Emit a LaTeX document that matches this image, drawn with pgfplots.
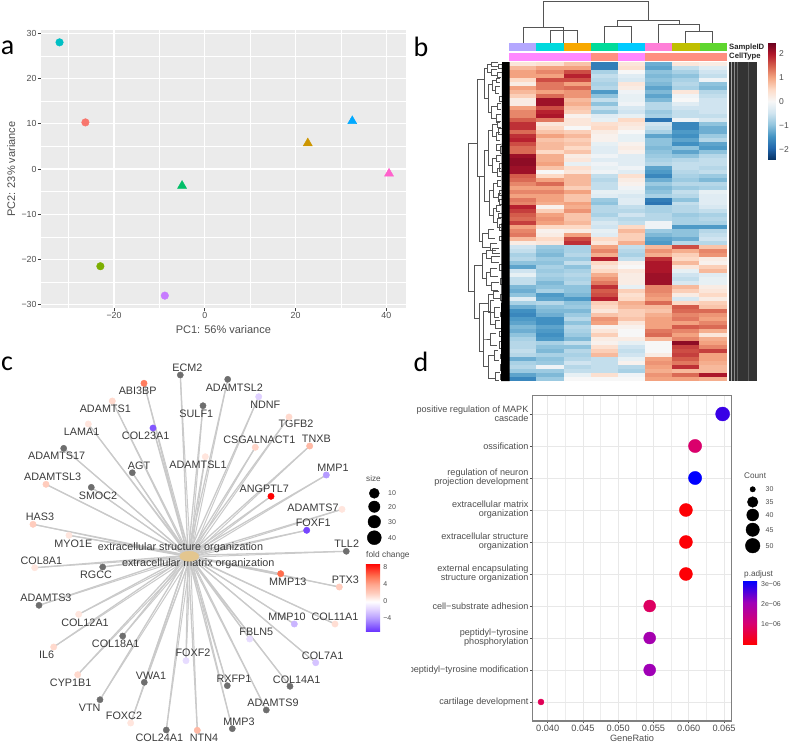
\documentclass[border=0pt]{standalone}
\usepackage{fontspec}
\setmainfont{Liberation Sans}
\newfontfamily\carlito{Carlito}
\usepackage{pgfplots}
\usepackage{pgfplotstable}
\pgfplotsset{compat=1.18}
\newcommand\fs[1]{\fontsize{#1}{#1}\selectfont}
\definecolor{tickg}{HTML}{4D4D4D}
\definecolor{txtg}{HTML}{3A3A3A}
\definecolor{dendro}{HTML}{555555}
\definecolor{edgeg}{HTML}{CACACA}
\definecolor{nodeg}{HTML}{6E6E6E}
\definecolor{sa}{HTML}{B4A7FF}\definecolor{sb}{HTML}{00D9DD}\definecolor{sc}{HTML}{F8A800}\definecolor{sd}{HTML}{00DB9A}
\definecolor{se}{HTML}{00CBFF}\definecolor{sf}{HTML}{FF7FD8}\definecolor{sg}{HTML}{BFBF00}\definecolor{sh}{HTML}{5FD62F}
\definecolor{ca}{HTML}{FF88FF}\definecolor{cb}{HTML}{FF8F80}
\pgfplotsset{
 colormap={rdbu}{rgb255=(5,48,97) rgb255=(33,102,172) rgb255=(67,147,195) rgb255=(146,197,222) rgb255=(209,229,240) rgb255=(247,247,247) rgb255=(253,219,199) rgb255=(244,165,130) rgb255=(214,96,77) rgb255=(178,24,43) rgb255=(103,0,31)},
 colormap={fc}{rgb255(0cm)=(106,53,255); rgb255(3cm)=(181,155,255); rgb255(5cm)=(223,207,255); rgb255(7cm)=(255,255,255); rgb255(9cm)=(255,205,190); rgb255(11cm)=(255,167,143); rgb255(13cm)=(255,112,80); rgb255(16cm)=(255,0,0)},
 colormap={pa}{rgb255=(255,0,0) rgb255=(216,0,112) rgb255=(158,0,184) rgb255=(0,0,255)},
}
\pgfdeclareplotmark{cell}{\pgfpathrectangle{\pgfpoint{-13.7pt}{-2.05pt}}{\pgfpoint{27.4pt}{4.1pt}}\pgfusepathqfill}
\pgfplotstableread{
c0 c1 c2 c3 c4 c5 c6 c7
0.3 0.4 0.7 -1.7 0.3 -1.2 0.3 0.2
0.8 1.0 1.0 -1.7 0.4 -1.3 -0.6 -0.3
1.0 1.2 1.6 -0.8 0.0 -1.0 -0.8 -0.5
1.0 1.0 1.9 -0.6 -0.3 -1.1 -1.0 -0.6
0.5 1.6 1.6 -0.7 -0.4 -1.0 -0.8 -0.1
0.2 1.3 1.0 -0.8 0.3 -1.1 -0.7 -1.0
1.0 1.3 1.4 -0.7 0.2 -1.3 -0.8 -1.1
0.8 1.0 1.1 -1.4 -0.1 -1.1 0.3 -0.7
0.6 1.4 1.1 -1.0 -0.2 -1.3 -0.1 -0.6
0.2 2.1 0.8 -0.6 -0.2 -1.1 0.0 -0.5
0.2 2.1 0.9 -1.0 -0.1 -0.7 -0.3 -0.5
1.0 1.6 0.7 -0.6 -0.4 -0.7 -0.5 -0.5
1.2 1.9 0.6 -0.9 -0.5 -0.9 -0.6 -0.5
1.2 2.0 0.1 -0.3 -0.2 -0.8 -0.6 -0.6
1.5 1.3 0.3 -0.2 0.5 -1.8 -0.1 -0.4
1.8 0.3 0.3 0.4 0.3 -0.5 -1.6 -1.0
1.8 0.5 0.0 0.5 0.2 -0.6 -1.6 -1.2
1.4 0.7 0.6 0.2 0.0 -0.8 -1.4 -1.2
1.8 1.0 0.8 0.1 -0.2 -1.3 -1.5 -0.9
1.9 0.7 0.6 0.1 -0.2 -1.0 -1.3 -0.7
1.6 0.8 0.7 -0.2 0.1 -1.0 -1.5 -1.3
1.4 0.8 0.5 -0.3 0.2 -1.1 -1.0 -1.4
1.4 0.5 0.7 -0.3 0.1 -1.0 -1.3 -1.0
2.1 0.9 0.2 -0.1 -0.3 -0.9 -1.0 -0.7
2.2 0.9 0.3 -0.3 -0.3 -0.8 -0.7 -0.6
2.2 1.0 -0.2 -0.1 -0.3 -0.7 -0.6 -0.6
2.1 0.7 0.4 -0.2 -0.1 -1.3 -0.6 -0.7
2.1 0.0 0.3 -0.1 -0.3 -1.4 -0.7 -0.6
1.5 0.5 0.8 -0.6 0.4 -1.6 -0.8 -0.9
1.4 1.0 0.8 -0.7 0.2 -1.2 -0.9 -1.1
1.2 1.4 0.8 -0.6 0.1 -0.9 -0.7 -0.7
1.0 1.0 0.6 -0.6 -0.1 -1.1 -0.9 -0.8
1.2 1.2 1.0 -0.2 -0.2 -1.0 -0.6 -0.2
1.0 1.0 0.7 -0.3 -0.4 -0.8 -0.7 -0.3
1.3 1.0 0.7 -0.9 -0.3 -1.7 -1.0 -0.3
1.2 0.9 1.0 -1.0 -0.3 -1.8 -0.6 -0.3
1.9 0.1 0.9 -0.7 -0.6 -0.8 -0.7 -0.4
1.7 0.6 1.1 -0.7 -0.7 -0.8 -0.7 -0.6
1.5 1.0 0.7 -0.8 -0.5 -0.7 -0.9 -0.8
1.4 1.1 0.7 -0.6 -0.7 -0.7 -0.8 -0.7
1.7 1.0 0.8 -0.4 -0.6 -0.1 -0.8 -0.8
1.0 0.5 0.5 -0.5 0.5 -0.1 -1.4 -1.4
1.2 0.1 0.2 -0.2 0.8 -0.9 -1.0 -0.7
1.3 0.2 1.0 -0.3 0.6 -1.1 -1.0 -0.6
0.8 0.5 1.6 0.5 0.6 -1.3 -1.2 -0.5
0.2 0.3 1.8 0.3 0.9 -1.4 -0.7 -0.7
-0.5 -0.9 -0.8 1.0 -0.6 0.8 1.6 0.7
-0.6 -1.0 -0.8 1.2 -0.7 1.1 0.9 1.2
-0.8 -1.1 -0.7 0.9 -0.8 0.9 0.6 1.1
-0.7 -0.9 -0.9 1.9 -0.6 1.8 0.5 0.2
-1.0 -1.0 -0.6 0.5 0.1 2.0 0.8 0.1
-1.3 -0.8 -1.0 0.3 0.0 2.0 0.3 0.6
-0.5 -0.9 -0.8 0.5 0.3 2.0 -0.2 0.8
-0.2 -0.8 -0.7 0.9 0.2 2.1 -0.5 -0.3
-0.6 -0.9 -0.8 1.1 0.2 2.1 -0.6 -0.2
-0.6 -1.1 -0.7 1.3 0.2 2.1 -0.4 -0.2
-1.1 -1.0 -1.0 1.8 -0.2 1.2 0.8 0.2
-1.2 -0.8 -1.0 1.5 0.6 1.2 0.6 0.3
-1.0 -1.4 -1.1 1.6 0.4 1.1 0.2 0.5
-0.3 -1.3 -1.4 1.9 0.5 1.0 -0.4 0.2
-0.8 -0.7 -1.0 0.6 0.9 1.4 0.5 0.6
-1.2 -1.0 -0.9 0.5 0.8 0.8 1.5 0.7
-1.5 -1.1 -1.1 0.3 0.6 0.7 1.4 1.4
-1.6 -1.2 -0.9 0.7 0.6 0.9 1.2 1.1
-1.4 -1.5 -0.7 1.1 0.7 1.0 1.3 1.0
-1.3 -1.5 -1.0 1.0 0.3 1.0 1.0 1.2
-1.1 -1.3 -0.7 0.1 0.1 1.0 1.5 1.4
-1.2 -1.4 -0.8 0.3 0.0 1.3 1.2 0.9
-1.0 -1.5 -0.9 0.6 0.0 1.4 1.0 0.3
-0.8 -1.4 -1.1 0.2 0.2 0.8 1.2 0.9
-0.7 -0.8 -0.6 0.1 -0.2 0.0 2.2 1.0
-0.7 -1.0 -1.0 0.4 -0.5 0.0 1.7 1.2
-0.6 -1.1 -0.7 0.6 -0.6 0.0 1.6 1.7
-0.7 -0.8 -0.8 0.8 -0.5 0.2 1.7 1.0
-1.2 -1.0 -0.7 -0.6 -0.2 1.0 1.5 1.0
-0.8 -0.9 -0.5 -0.6 0.1 1.1 1.3 0.9
-0.7 -0.1 -0.7 -0.6 -0.7 1.0 1.8 0.8
-0.9 -0.9 -0.6 -0.6 -0.8 0.9 0.8 0.8
-1.3 -1.1 -0.2 0.4 -0.1 1.1 1.4 2.0
-1.6 -0.9 0.0 0.0 0.0 1.0 1.0 0.9
}\heat
\pgfplotstableread{
x y m
144 383.3 5.5
112.3 401 1.5
88.3 424 1
153 428 -6
205.3 456.7 1
46 484.3 2
33 524.3 2
69 535.3 1
258.7 396.7 -2
289 417 1.5
255.3 447.3 1.7
309.7 446 3
326.3 475 -4
271 496.3 8.9
342 509.3 1
306.7 530.3 -6.5
34.7 567.7 1
78.7 614.3 1
53.7 647 1.5
186 660.7 -1.5
77.7 674.7 1.5
130.7 723 1
197.3 730.3 3
280.7 573.7 6
339.3 587 2
294.3 624 -3
335 624 1.3
249.7 639 -1.5
315.7 662.7 -2.5
}\colnodes
\pgfplotstableread{
x y
180.3 375
203 405.7
63.7 448.3
132.3 472.7
91.3 487.3
227.7 379.3
346.3 551.3
102.7 567
39 605.3
122.7 636
144.3 682.3
100 699.7
166.3 730
227.3 685.7
290 686.3
266.3 710
232.3 728.7
}\grnodes
\begin{document}
\begin{tikzpicture}[x=1pt,y=1pt]
\path[use as bounding box] (0,0) rectangle (790,744);
% ---------- panel a
\begin{axis}[at={(40.7pt,435.7pt)},anchor=south west,scale only axis,width=365.3pt,height=278.3pt,
 xmin=-36.15,xmax=44.34,ymin=-30.8,ymax=30.73,
 axis background/.style={fill=black!8},axis line style={draw=none},
 xtick={-20,0,20,40},xticklabels={−20,0,20,40},
 ytick={-30,-20,-10,0,10,20,30},yticklabels={−30,−20,−10,0,10,20,30},
 minor xtick={-30,-10,10,30},minor ytick={-25,-15,-5,5,15,25},
 grid=both,major grid style={white,line width=1.4pt},minor grid style={white,line width=0.6pt},
 tick align=outside,tick pos=left,major tick length=3pt,minor tick length=0pt,
 tick style={draw=black!75,line width=0.7pt},
 xticklabel style={font=\fs{8.8},text=tickg,inner sep=1pt},
 yticklabel style={font=\fs{8.8},text=tickg,inner sep=1pt},
 xlabel={PC1: 56\% variance},ylabel={PC2: 23\% variance},
 xlabel style={font=\fs{11},text=tickg,at={(axis description cs:0.5,-0.078)},anchor=center},
 ylabel style={font=\fs{11},text=tickg,at={(axis description cs:-0.0805,0.5)},anchor=center},
 clip=false]
\addplot[only marks,mark=*,mark size=3.8pt,color={rgb,255:red,0;green,191;blue,196}] coordinates {(-32,28)};
\addplot[only marks,mark=*,mark size=3.8pt,color={rgb,255:red,248;green,118;blue,109}] coordinates {(-26.3,10.3)};
\addplot[only marks,mark=*,mark size=3.8pt,color={rgb,255:red,124;green,174;blue,0}] coordinates {(-23,-21.5)};
\addplot[only marks,mark=*,mark size=3.8pt,color={rgb,255:red,199;green,124;blue,255}] coordinates {(-8.8,-28)};
\addplot[only marks,mark=triangle*,mark size=5.2pt,color={rgb,255:red,0;green,190;blue,103}] coordinates {(-5,-3.7)};
\addplot[only marks,mark=triangle*,mark size=5.2pt,color={rgb,255:red,205;green,150;blue,0}] coordinates {(22.7,5.7)};
\addplot[only marks,mark=triangle*,mark size=5.2pt,color={rgb,255:red,0;green,169;blue,255}] coordinates {(32.5,10.6)};
\addplot[only marks,mark=triangle*,mark size=5.2pt,color={rgb,255:red,255;green,97;blue,204}] coordinates {(40.6,-1)};
\end{axis}
% ---------- panel b heat map
\begin{axis}[at={(509.3pt,363pt)},anchor=south west,scale only axis,width=217.4pt,height=319pt,
 xmin=-0.5,xmax=7.5,ymin=-0.5,ymax=79.5,y dir=reverse,hide axis,clip=false,
 colormap name=rdbu,point meta min=-2.45,point meta max=2.45]
\pgfplotsinvokeforeach{0,...,7}{
 \addplot[scatter,only marks,mark=cell,point meta=\thisrow{c#1},
  scatter/use mapped color={draw=none,fill=mapped color}]
  table[x expr=#1,y expr=\coordindex]{\heat};
}
\end{axis}
\begin{axis}[at={(759.6pt,584pt)},anchor=south west,scale only axis,width=7.7pt,height=117.7pt,hide axis,
 colormap name=rdbu,point meta min=-2.45,point meta max=2.45,colorbar,
 colorbar style={at={(parent axis.north west)},anchor=north west,width=7.7pt,height=117.7pt,
  ytick={-2,-1,0,1,2},yticklabels={−2,−1,0,1,2},major tick length=0pt,axis line style={draw=none},
  yticklabel style={font=\fs{8.5},text=tickg,inner sep=0pt,xshift=3pt}}]
\addplot[draw=none] coordinates {(0,0)(1,1)};
\end{axis}
% ---------- panel d
\begin{axis}[at={(532.3pt,23pt)},anchor=south west,scale only axis,width=199.4pt,height=325.3pt,
 xmin=0.03782,xmax=0.06609,ymin=-0.594,ymax=9.572,
 axis line style={draw=black!50,line width=1.2pt},
 xtick={0.040,0.045,0.050,0.055,0.060,0.065},xticklabels={0.040,0.045,0.050,0.055,0.060,0.065},
 scaled x ticks=false,
 minor xtick={0.0425,0.0475,0.0525,0.0575,0.0625},
 ytick={0,...,9},
 yticklabels={{cartilage development},{peptidyl−tyrosine modification},{peptidyl−tyrosine\\phosphorylation},{cell−substrate adhesion},{external encapsulating\\structure organization},{extracellular structure\\organization},{extracellular matrix\\organization},{regulation of neuron\\projection development},{ossification},{positive regulation of MAPK\\cascade}},
 grid=both,major grid style={black!9,line width=0.7pt},minor grid style={black!7,line width=0.4pt},
 tick align=outside,tick pos=left,major tick length=2.5pt,minor tick length=0pt,
 tick style={draw=black!70,line width=0.6pt},
 xticklabel style={font=\fs{9.2},text=tickg,inner sep=1pt},
 yticklabel style={font=\fs{9.1},text=tickg,align=right,inner sep=0pt,xshift=-1.2pt},
 xlabel={GeneRatio},xlabel style={font=\fs{9.2},text=tickg,at={(axis description cs:0.5,-0.0535)},anchor=center},
 colormap name=pa,point meta min=0,point meta max=3.13,point meta=explicit,clip=false]
\foreach \x/\y/\r/\m in {0.0648/9/7/2.75,0.0609/8/6.6/1.0,0.0609/7/6.6/3.13,0.0596/6/6.5/0.05,0.0596/5/6.5/0.05,0.0596/4/6.5/0.05,0.05446/3/6/0.9,0.05446/2/6/1.95,0.05446/1/6/2.05,0.03905/0/3/0.8}{
 \edef\tmp{\noexpand\addplot[scatter,only marks,mark=*,mark size=\r pt,scatter/use mapped color={draw=mapped color,fill=mapped color}] coordinates {(\x,\y) [\m]};}\tmp
}
\end{axis}
\begin{axis}[at={(734.6pt,99pt)},anchor=south west,scale only axis,width=14pt,height=64pt,hide axis,
 colormap name=pa,point meta min=0,point meta max=3.13,colorbar,
 colorbar style={at={(parent axis.north west)},anchor=north west,width=14pt,height=64pt,
  ytick={1,2,3},yticklabels={1e−06,2e−06,3e−06},major tick length=0pt,axis line style={draw=none},
  yticklabel style={font=\fs{7},text=tickg,inner sep=0pt,xshift=3.8pt}}]
\addplot[draw=none] coordinates {(0,0)(1,1)};
\end{axis}
% ---------- panel c colour bar
\begin{axis}[at={(357.3pt,112.7pt)},anchor=south west,scale only axis,width=14.3pt,height=68pt,hide axis,
 colormap name=fc,point meta min=-7,point meta max=8.93,colorbar,
 colorbar style={at={(parent axis.north west)},anchor=north west,width=14.3pt,height=68pt,
  ytick={-4,0,4,8},yticklabels={−4,0,4,8},major tick length=0pt,axis line style={draw=none},
  yticklabel style={font=\fs{7},text=tickg,inner sep=0pt,xshift=3pt}}]
\addplot[draw=none] coordinates {(0,0)(1,1)};
\end{axis}
% ---------- overlay in picture pixels: panel c, dendrograms, annotations, letters
\begin{axis}[at={(0pt,0pt)},anchor=south west,scale only axis,width=790pt,height=744pt,
 xmin=0,xmax=790,ymin=0,ymax=744,y dir=reverse,hide axis,clip=false,
 colormap name=fc,point meta min=-7,point meta max=8.93]
% top dendrogram
\addplot[dendro,line width=0.9pt] coordinates {(523,42.7)(523,27.3)(563.7,27.3)(563.7,42.7)};
\addplot[dendro,line width=0.9pt] coordinates {(550,42.7)(550,30.7)(577.3,30.7)(577.3,42.7)};
\addplot[dendro,line width=0.9pt] coordinates {(543.3,27.3)(543.3,1.7)(648.3,1.7)(648.3,20.7)};
\addplot[dendro,line width=0.9pt] coordinates {(604,42.7)(604,26)(631.7,26)(631.7,42.7)};
\addplot[dendro,line width=0.9pt] coordinates {(617.7,26)(617.7,20.7)(679,20.7)(679,24.3)};
\addplot[dendro,line width=0.9pt] coordinates {(658.3,42.7)(658.3,24.3)(699.3,24.3)(699.3,31.7)};
\addplot[dendro,line width=0.9pt] coordinates {(685.7,42.7)(685.7,31.7)(712.7,31.7)(712.7,42.7)};
% annotation bars
\foreach \i/\c/\d in {0/sa/ca,1/sb/ca,2/sc/ca,3/sd/cb,4/se/ca,5/sf/cb,6/sg/cb,7/sh/cb}{
 \pgfmathsetmacro\xl{509.3+27.175*\i}\pgfmathsetmacro\xr{\xl+27.3}
 \edef\tmp{\noexpand\addplot[fill=\c,draw=none] coordinates {(\xl,43.3)(\xr,43.3)(\xr,51)(\xl,51)} -- cycle;
  \noexpand\addplot[fill=\d,draw=none] coordinates {(\xl,53)(\xr,53)(\xr,60.7)(\xl,60.7)} -- cycle;}\tmp
}
\node[anchor=west,inner sep=0pt,font=\fs{7.7}\bfseries,text=black!85] at (axis cs:729,47.2) {SampleID};
\node[anchor=west,inner sep=0pt,font=\fs{7.7}\bfseries,text=black!85] at (axis cs:729,57) {CellType};
% left dendrogram
\foreach \p/\a/\xa/\b/\xb in {468.7/143.3/477.7/291.7/474.7,477.7/79/484.3/176.7/479,479/176.7/484.7/241.7/482.7,484.7/150/488.7/201.7/489,488.7/130/492/165/492,489/190/493/215/493,484.3/68/487/98/488,482.7/233/488/247/490,474.7/265/482/318.3/479.3,482/253/486/278/486,479.3/303/488.7/351.7/483.7,483.7/311.7/490/366.7/488,
487/64/491/72/491,491/62.5/498/66/499,491/69/497/75/498,488/84/492/112/491,492/80/496/90/495,496/78/500/82/500,495/86/500/93/499,491/106/497/118/496,497/103/501/109/501,496/114/501/122/500,492/124/497/136/496,496/132/500/140/500,497/121/501/127/501,492/158/496/172/497,496/155/501/161/500,497/168/501/176/501,493/183/497/197/498,497/180/501/186/501,498/193/501/201/500,493/208/496/222/497,496/205/501/211/500,497/218/501/227/501,488/229/494/238/495,490/243/497/250/496,496/144/501/150/500,
486/250/492/258/491,486/272/490/285/491,492/248/499/253/500,491/256/500/262/499,490/268/497/276/498,491/282/499/290/498,488.7/294/493/312/494,493/291/499/298/500,494/307/500/317/499,490/300/494/324/495,495/320/500/328/501,488/355/494/378/495,494/350/498/360/499,495/372/500/380/499,483.7/339/490/339/490,490/333/496/345/497,
498/64/502/68/502,497/72/502/77/501,499/96/503/101/503,498/128/503/134/502,500/146/503/153/502,499/163/503/171/502,499/190/503/195/502,499/199/503/204/503,498/213/503/217/502,499/224/503/230/502,499/236/503/240/502,499/264/503/270/502,500/278/503/284/502,500/294/503/300/503,500/312/503/316/502,499/331/503/336/502,499/341/503/348/502,500/354/503/358/502,500/364/503/370/502,500/374/503/379/503}{
 \edef\tmp{\noexpand\addplot[dendro,line width=0.8pt] coordinates {(\xa,\a)(\p,\a)(\p,\b)(\xb,\b)};}\tmp
}
\addplot[fill=black,draw=none] coordinates {(502,62)(509.5,62)(509.5,381)(501,381)} -- cycle;
% row-label strip
\addplot[fill=black!80,draw=none] coordinates {(728.5,62)(756.5,62)(756.5,381)(728.5,381)} -- cycle;
\addplot[black!35,line width=0.8pt] coordinates {(731,62)(731,381)};
\addplot[black!45,line width=0.7pt] coordinates {(734,62)(734,381)};
\addplot[black!60,line width=0.6pt] coordinates {(737.5,62)(737.5,381)};
\addplot[black!65,line width=0.5pt] coordinates {(748,62)(748,381)};
% panel c edges
\foreach \gx/\gy in {
180.3/375,144/383.3,112.3/401,203/405.7,88.3/424,153/428,63.7/448.3,132.3/472.7,205.3/456.7,46/484.3,91.3/487.3,33/524.3,69/535.3,227.7/379.3,258.7/396.7,289/417,255.3/447.3,309.7/446,326.3/475,271/496.3,342/509.3,306.7/530.3,346.3/551.3,34.7/567.7,102.7/567,39/605.3,78.7/614.3,53.7/647,122.7/636,186/660.7,77.7/674.7,144.3/682.3,100/699.7,130.7/723,166.3/730,197.3/730.3,280.7/573.7,339.3/587,294.3/624,335/624,249.7/639,315.7/662.7,227.3/685.7,290/686.3,266.3/710,232.3/728.7}{
 \edef\tmp{\noexpand\addplot[edgeg,line width=1.3pt] coordinates {(188,555.4)(\gx,\gy)};
  \noexpand\addplot[edgeg,line width=1pt] coordinates {(190.5,557.2)(\gx,\gy)};}\tmp
}
\addplot[only marks,mark=*,mark size=5pt,mark options={xscale=1.9,draw={rgb,255:red,227;green,198;blue,143},fill={rgb,255:red,227;green,198;blue,143}}] coordinates {(189.3,556.3)};
\addplot[only marks,mark=*,mark size=3.1pt,color=nodeg] table[x=x,y=y]{\grnodes};
\addplot[scatter,only marks,mark=*,mark size=3.2pt,point meta=\thisrow{m},scatter/use mapped color={draw=mapped color,fill=mapped color}] table[x=x,y=y]{\colnodes};
\foreach \lx/\ly/\name in {
187.3/367.3/ECM2,137.7/390.7/ABI3BP,105.3/409/ADAMTS1,196.3/413.3/SULF1,81.7/432/LAMA1,145.7/435.7/COL23A1,56.7/456/ADAMTS17,139/465.7/AGT,198/465/ADAMTSL1,52.7/476.7/ADAMTSL3,98/495.3/SMOC2,40/517/HAS3,73.3/543.3/MYO1E,234.3/387.3/ADAMTSL2,265.3/404.7/NDNF,296/424/TGFB2,259.3/439.3/CSGALNACT1,316.3/439/TNXB,333/467.7/MMP1,264.3/489/ANGPTL7,313/507.7/ADAMTS7,313.3/523/FOXF1,346.7/543.7/TLL2,41.3/560.3/COL8A1,96/574.7/RGCC,46/597.7/ADAMTS3,85/622.3/COL12A1,46.7/655/IL6,115.7/644/COL18A1,193/653/FOXF2,70.7/683/CYP1B1,151/675.3/VWA1,89.7/707.7/VTN,124/715.3/FOXC2,159.3/737.7/COL24A1,204/737.7/NTN4,287.7/581.3/MMP13,345.3/579.7/PTX3,287/616.7/MMP10,335/616.7/COL11A1,256.3/631.7/FBLN5,322.7/655.7/COL7A1,234/678.3/RXFP1,296.7/679.3/COL14A1,273/702.7/ADAMTS9,239/721.3/MMP3,180.5/547.7/{extracellular structure organization},198.3/564/{extracellular matrix organization}}{
 \edef\tmp{\noexpand\node[inner sep=0pt,font=\noexpand\fs{10.8},text=txtg] at (axis cs:\lx,\ly) {\name};}\tmp
}
% panel c legends
\node[anchor=west,inner sep=0pt,font=\fs{8.2},text=tickg] at (axis cs:366,479) {size};
\foreach \y/\r in {493.3/5,506.7/5.7,521.7/6.3,537.7/7}{
 \edef\tmp{\noexpand\addplot[only marks,mark=*,mark size=\r pt,color=black] coordinates {(374.3,\y)};}\tmp
}
\node[anchor=west,inner sep=0pt,font=\fs{7},text=tickg] at (axis cs:388,493.3) {10};
\node[anchor=west,inner sep=0pt,font=\fs{7},text=tickg] at (axis cs:388,506.7) {20};
\node[anchor=west,inner sep=0pt,font=\fs{7},text=tickg] at (axis cs:388,521.7) {30};
\node[anchor=west,inner sep=0pt,font=\fs{7},text=tickg] at (axis cs:388,537.7) {40};
\node[anchor=west,inner sep=0pt,font=\fs{8.4},text=tickg] at (axis cs:366,555.7) {fold change};
% clip of the cut-off term label in panel d
\addplot[fill=white,draw=none] coordinates {(402,664)(411.4,664)(411.4,677)(402,677)} -- cycle;
% panel d legends
\node[anchor=west,inner sep=0pt,font=\fs{8.2},text=tickg] at (axis cs:744,475.3) {Count};
\foreach \y/\r in {489.3/2.7,502/5.3,515/6,529.7/6.7,545.7/7.3}{
 \edef\tmp{\noexpand\addplot[only marks,mark=*,mark size=\r pt,color=black] coordinates {(752.7,\y)};}\tmp
}
\node[anchor=west,inner sep=0pt,font=\fs{7},text=tickg] at (axis cs:765.5,489.3) {30};
\node[anchor=west,inner sep=0pt,font=\fs{7},text=tickg] at (axis cs:765.5,502) {35};
\node[anchor=west,inner sep=0pt,font=\fs{7},text=tickg] at (axis cs:765.5,515) {40};
\node[anchor=west,inner sep=0pt,font=\fs{7},text=tickg] at (axis cs:765.5,529.7) {45};
\node[anchor=west,inner sep=0pt,font=\fs{7},text=tickg] at (axis cs:765.5,545.7) {50};
\node[anchor=west,inner sep=0pt,font=\fs{8.2},text=tickg] at (axis cs:744,574) {p.adjust};
% panel letters
\node[inner sep=0pt,font=\carlito\fs{28}] at (axis cs:7.5,48) {a};
\node[inner sep=0pt,font=\carlito\fs{28}] at (axis cs:421,47) {b};
\node[inner sep=0pt,font=\carlito\fs{28}] at (axis cs:7,364) {c};
\node[inner sep=0pt,font=\carlito\fs{28}] at (axis cs:421,362) {d};
\end{axis}
\end{tikzpicture}
\end{document}
